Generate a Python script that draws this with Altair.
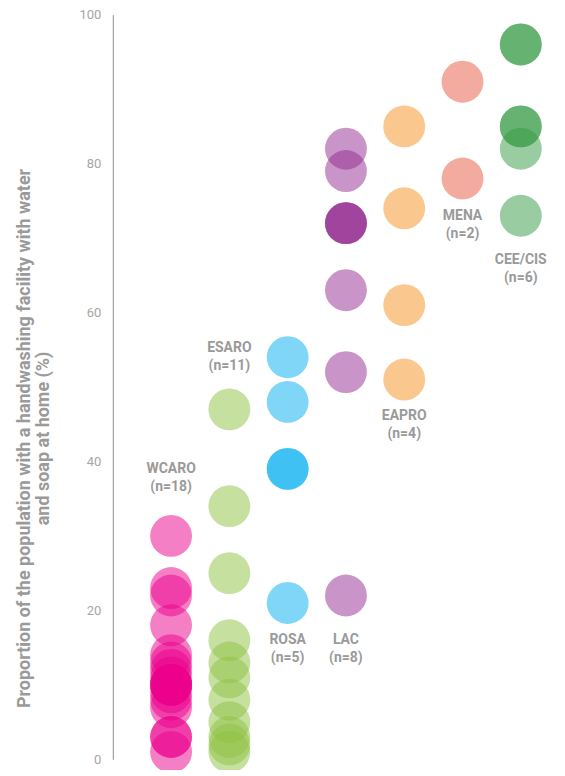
import altair as alt
import pandas as pd

regions = ["WCARO", "ESARO", "ROSA", "LAC", "EAPRO", "MENA", "CEE/CIS"]
counts = [18, 11, 5, 8, 4, 2, 6]
colors = ["#ec008c", "#8dc141", "#00aeef", "#93298f", "#f5911d", "#e9573f", "#339941"]

wcaro = [30, 23, 22, 18, 14, 13, 12, 11, 10, 10, 10, 10, 9, 8, 7, 3, 3, 1]
esaro = [47, 34, 25, 16, 13, 11, 8, 5, 3, 2, 1]
rosa = [54, 48, 39, 39, 21]
lac = [82, 79, 72, 72, 72, 63, 52, 22]
eapro = [85, 74, 61, 51]
mena = [91, 78]
ceecis = [96, 96, 85, 85, 82, 73]

label_y = [39.9, 56.2, 16.9, 16.9, 47.0, 73.9, 68.0]

series = [wcaro, esaro, rosa, lac, eapro, mena, ceecis]
rows = []
for i, (r, vals) in enumerate(zip(regions, series)):
    for v in vals:
        rows.append({"region": r, "pos": i + 1, "value": v})
df = pd.DataFrame(rows)

lab = pd.DataFrame({
    "region": regions,
    "pos": [i + 1 for i in range(len(regions))],
    "ly": label_y,
    "txt": [f"{r}\n(n={n})" for r, n in zip(regions, counts)],
})

xscale = alt.Scale(domain=[0.0, 7.45], nice=False, zero=False)
yscale = alt.Scale(domain=[0, 100], nice=False)

points = alt.Chart(df).mark_circle(size=1760, opacity=0.5, clip=False).encode(
    x=alt.X("pos:Q", scale=xscale, axis=None),
    y=alt.Y(
        "value:Q",
        scale=yscale,
        axis=alt.Axis(
            values=[0, 20, 40, 60, 80, 100],
            ticks=False,
            grid=False,
            domainColor="#8c8c8c",
            domainWidth=1,
            labelColor="#a6a6a6",
            labelFont="Roboto",
            labelFontSize=13,
            labelPadding=12,
            title=[
                "Proportion of the population with a handwashing facility with water",
                "and soap at home (%)",
            ],
            titleFont="Roboto",
            titleFontSize=18,
            titleFontWeight="bold",
            titleColor="#9a9a9a",
            titleAngle=270,
            titleAlign="center",
            titleBaseline="top",
            titleX=-97,
            titleY=424,
            titleLineHeight=19,
        ),
    ),
    color=alt.Color("region:N", scale=alt.Scale(domain=regions, range=colors), legend=None),
)

labels = alt.Chart(lab).mark_text(
    font="Roboto",
    fontSize=14,
    fontWeight="bold",
    color="#9a9a9a",
    baseline="top",
    align="center",
    lineBreak="\n",
    lineHeight=18,
).encode(
    x=alt.X("pos:Q", scale=xscale),
    y=alt.Y("ly:Q", scale=yscale),
    text="txt:N",
)

chart = (
    alt.layer(points, labels)
    .properties(
        width=435,
        height=746,
        autosize=alt.AutoSizeParams(type="none"),
        padding={"left": 105, "top": 6, "right": 10, "bottom": 10},
    )
    .configure_view(stroke=None)
)

chart.save("out.html", embed_options={"renderer": "svg", "actions": False})
